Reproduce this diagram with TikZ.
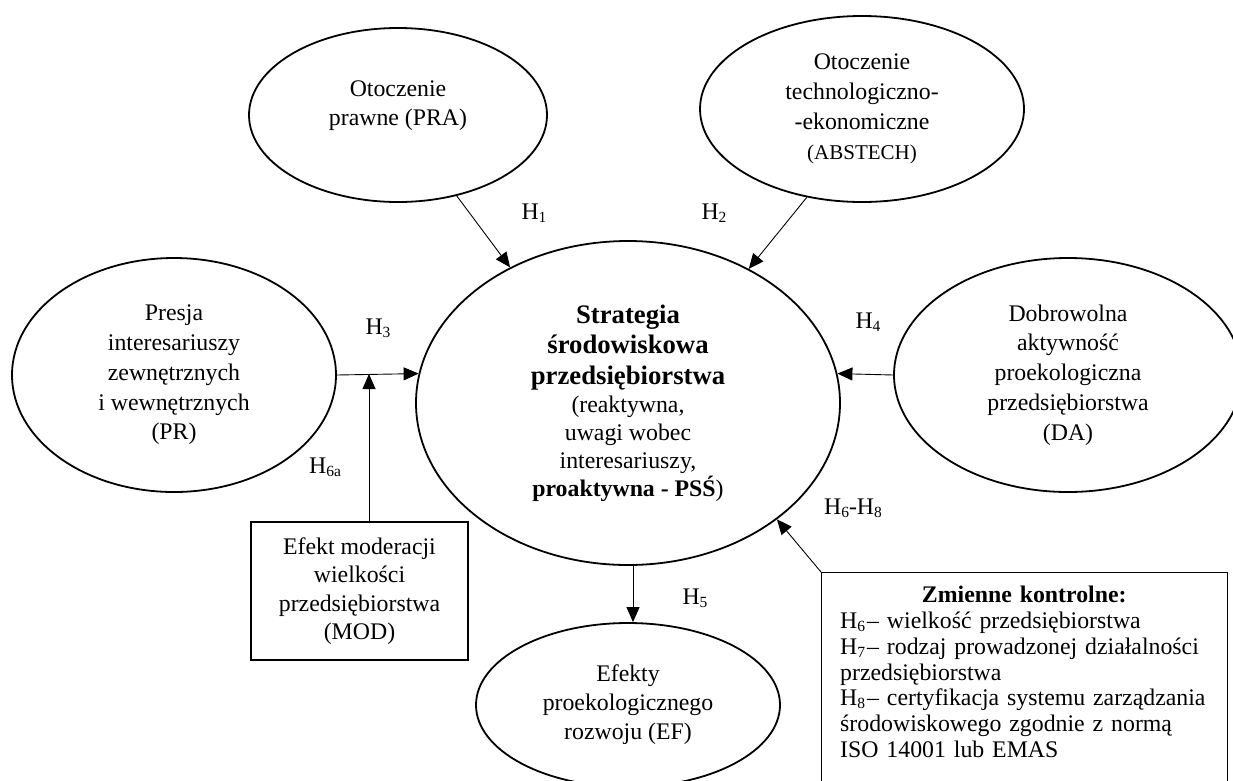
\documentclass[tikz,border=0pt]{standalone}
\usepackage{fontspec}
\setmainfont{Liberation Serif}
\usetikzlibrary{shapes.geometric,arrows.meta}
\newcommand\mytxt{\fontsize{23.8}{29.8}\selectfont}
\newcommand\hsb[1]{\raisebox{-0.12em}{\fontsize{15.5}{15.5}\selectfont #1}}
\begin{document}
\begin{tikzpicture}[x=1pt,y=-1pt,
  ell/.style={draw,ellipse,line width=1.8pt,inner sep=0pt,align=center,font=\mytxt},
  sq/.style={draw,rectangle,line width=1.3pt,inner sep=0pt,align=center},
  arr/.style={line width=0.9pt,-{Triangle[length=15pt,width=13pt]}},
  lab/.style={inner sep=0pt,font=\mytxt}]
\useasboundingbox (0,0) rectangle (1233,780);

% ellipses
\node[ell,minimum width=298pt,minimum height=174pt] (pra) at (398,115) {Otoczenie\\prawne (PRA)\\[-6pt]\mbox{}};
\node[ell,minimum width=324pt,minimum height=186pt] (abs) at (862,109) {Otoczenie\\technologiczno-\\-ekonomiczne\\{\fontsize{21}{29.8}\selectfont (ABSTECH)}};
\node[ell,minimum width=324pt,minimum height=234pt] (pr) at (174,375) {Presja\\interesariuszy\\zewnętrznych\\i wewnętrznych\\(PR)};
\node[ell,minimum width=348pt,minimum height=234pt] (da) at (1068,375) {Dobrowolna\\aktywność\\proekologiczna\\przedsiębiorstwa\\(DA)};
\node[ell,minimum width=424pt,minimum height=324pt,font={\fontsize{23.8}{28}\selectfont}] (c) at (628,403)
  {{\fontsize{26.7}{28}\selectfont\bfseries Strategia}\\[2.5pt]
   {\fontsize{26.7}{28}\selectfont\bfseries środowiskowa}\\[2.5pt]
   {\fontsize{26.7}{28}\selectfont\bfseries przedsiębiorstwa}\\
   (reaktywna,\\uwagi wobec\\interesariuszy,\\\textbf{proaktywna - PSŚ})};
\node[ell,minimum width=304pt,minimum height=164pt,font={\fontsize{23.8}{29}\selectfont}] (ef) at (628,705) {Efekty\\proekologicznego\\rozwoju (EF)};

% boxes
\node[sq,minimum width=217pt,minimum height=138pt,font={\fontsize{23.8}{28.5}\selectfont}] (mod) at (359.5,591) {Efekt moderacji\\wielkości\\przedsiębiorstwa\\(MOD)};
\node[sq,minimum width=406pt,minimum height=230pt,anchor=north west] (ctrl) at (821,572) {};
\node[anchor=north west,inner sep=0pt,text width=380pt,align=left,font={\fontsize{23.8}{25.8}\selectfont}] (ctxt) at (840,586)
  {\makebox[368pt][c]{\bfseries Zmienne kontrolne:}\\
   H\hsb{6}\hspace{2pt}– wielkość przedsiębiorstwa\\
   H\hsb{7}\hspace{2pt}– rodzaj prowadzonej działalności\\
   przedsiębiorstwa\\
   H\hsb{8}\hspace{2pt}– certyfikacja systemu zarządzania\\
   środowiskowego zgodnie z normą\\
   ISO 14001 lub EMAS};

% connectors
\coordinate (j) at (369,374);
\draw[arr] (pra.-54) -- (c.131);
\draw[arr] (abs.238) -- (c.48.3);
\draw[arr] (pr.east) -- (c.172);
\draw[arr] (da.west) -- (c.8);
\draw[arr] (mod.north -| j) -- (j);
\draw[arr] ([xshift=5pt]c.south) -- ([xshift=5pt]ef.north);
\draw[arr] (ctrl.north west) -- (c.-38.5);

% labels
\node[lab] (l1) at (534,213) {H\hsb{1}};
\node[lab] (l2) at (714,213) {H\hsb{2}};
\node[lab] (l3) at (378,328) {H\hsb{3}};
\node[lab] (l4) at (868,322) {H\hsb{4}};
\node[lab] (l6a) at (325,467) {H\hsb{6a}};
\node[lab] (l5) at (695,598) {H\hsb{5}};
\node[lab] (l68) at (853,508) {H\hsb{6}-H\hsb{8}};
\end{tikzpicture}
\end{document}
